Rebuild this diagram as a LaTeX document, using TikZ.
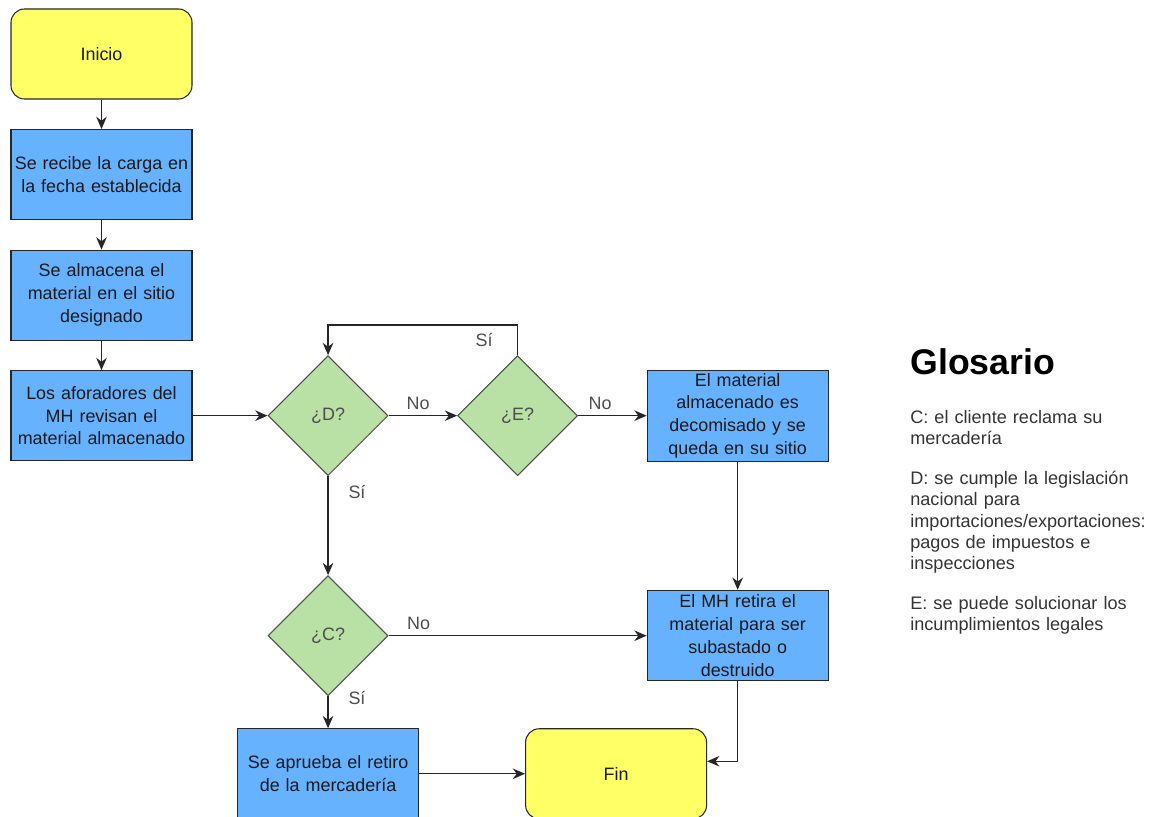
\documentclass[tikz,border=0pt]{standalone}
\usepackage{fontspec}
\setmainfont{Liberation Sans}
\usepackage{xcolor}
\usepackage{tikz}
\usetikzlibrary{arrows.meta,positioning,shapes.geometric}
\definecolor{ylw}{HTML}{FFFF66}
\definecolor{blu}{HTML}{66B2FF}
\definecolor{grn}{HTML}{B9E0A5}
\definecolor{txt}{HTML}{1A1A1A}
\definecolor{lbltxt}{HTML}{4D4D4D}
\definecolor{gltxt}{HTML}{333333}

\begin{document}
\begin{tikzpicture}[
    box/.style={draw=black!85, fill=blu, line width=0.6pt, minimum width=3.62cm, minimum height=1.8cm, text width=3.5cm, inner sep=0.06cm, align=center, text=txt, font=\fontsize{10.2}{13}\selectfont},
    term/.style={box, fill=ylw, rounded corners=0.27cm},
    cond/.style={diamond, draw=black!70, fill=grn, line width=0.6pt, minimum width=2.4cm, minimum height=2.4cm, inner sep=0pt, text=lbltxt, font=\fontsize{10.2}{13}\selectfont},
    arr/.style={-{Stealth[length=7pt,width=6pt]}, line width=0.8pt, draw=black!85},
    lbl/.style={text=lbltxt, inner sep=1pt, font=\fontsize{10.2}{13}\selectfont}
  ]
    \useasboundingbox (0,0) rectangle (23.02,-16.34);
    % main column
    \node[term] (ini) at (2.03,-1.08) {Inicio};
    \node[box, below=0.59cm of ini] (rec) {Se recibe la carga en\\la fecha establecida};
    \node[box, below=0.59cm of rec] (alm) {Se almacena el\\material en el sitio\\designado};
    \node[box, below=0.59cm of alm] (afo) {Los aforadores del\\MH revisan el\\material almacenado};
    % decisions
    \node[cond, right=1.5cm of afo] (qd) {¿D?};
    \node[cond, right=1.37cm of qd] (qe) {¿E?};
    \node[box, right=1.37cm of qe] (decom) {El material\\almacenado es\\decomisado y se\\queda en su sitio};
    \node[cond, below=1.98cm of qd] (qc) {¿C?};
    \node[box, below=0.64cm of qc] (apr) {Se aprueba el retiro\\de la mercadería};
    \node[box, below=2.56cm of decom] (ret) {El MH retira el\\material para ser\\subastado o\\destruido};
    \node[term, right=2.12cm of apr] (fin) {Fin};
    % glossary
    \node[anchor=west, inner sep=0pt, font=\bfseries\fontsize{20.3}{24}\selectfont] (glo) at (18.2,-7.24) {Glosario};
    \node[anchor=north west, inner sep=0pt, text width=5cm, align=left, text=gltxt, font=\fontsize{10.3}{12.1}\selectfont] (gtx) at (18.2,-8.2)
      {C: el cliente reclama su\\mercadería\\[10.6pt]
       D: se cumple la legislación\\nacional para\\importaciones/exportaciones:\\pagos de impuestos e\\inspecciones\\[10.6pt]
       E: se puede solucionar los\\incumplimientos legales};

    \draw[arr] (ini) -- (rec);
    \draw[arr] (rec) -- (alm);
    \draw[arr] (alm) -- (afo);
    \draw[arr] (afo) -- (qd);
    \draw[arr] (qd) -- node[lbl, pos=0.43, above=2pt] {No} (qe);
    \draw[arr] (qe) -- node[lbl, pos=0.32, above=2pt] {No} (decom);
    \draw[arr] (qe.north) -- ++(0,0.6) node[lbl, midway, left=0.45cm] {Sí} -| (qd.north);
    \draw[arr] (qd) -- node[lbl, pos=0.16, right=0.36cm] {Sí} (qc);
    \draw[arr] (qc.east) -- node[lbl, pos=0.116, above=2pt] {No} (qc.east -| ret.west);
    \draw[arr] (qc) -- node[lbl, pos=0.06, right=0.36cm] {Sí} (apr);
    \draw[arr] (decom) -- (ret);
    \draw[arr] (apr) -- (fin);
    \draw[arr] (ret.south) |- ([yshift=0.25cm]fin.east);
  \end{tikzpicture}
\end{document}
